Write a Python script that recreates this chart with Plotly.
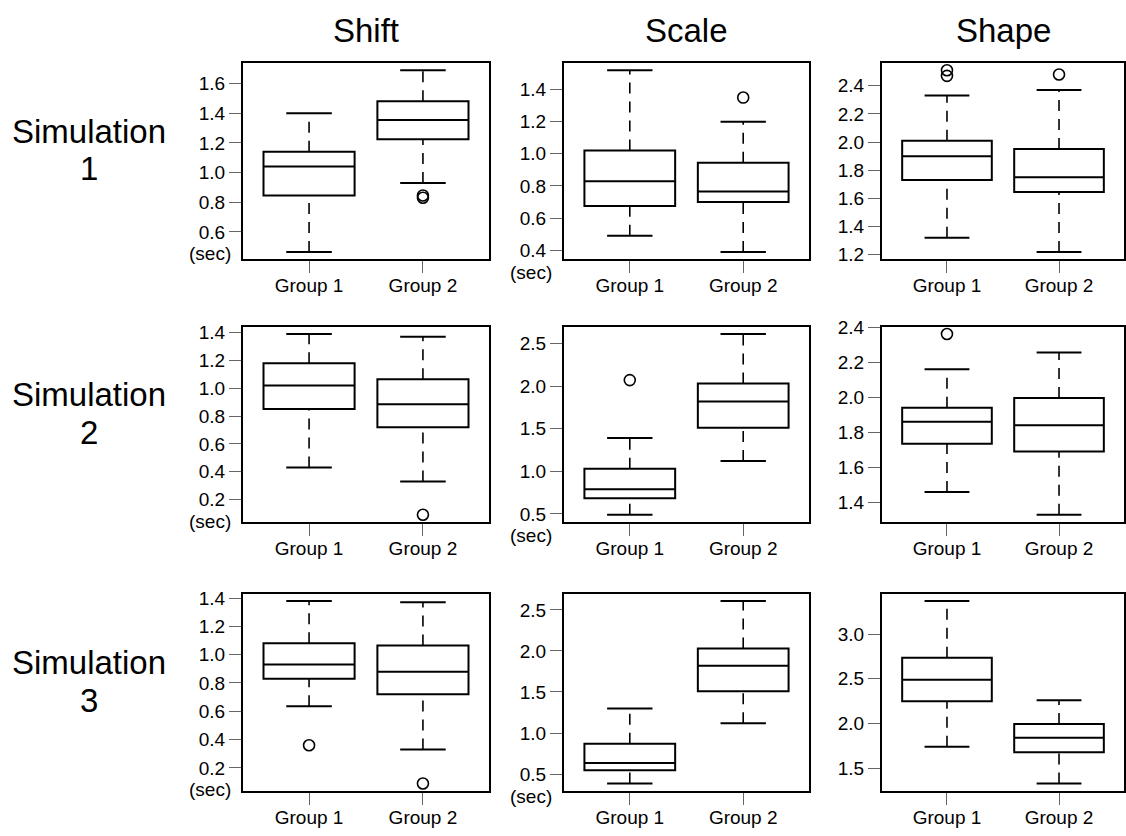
import plotly.graph_objects as go
from plotly.subplots import make_subplots

# ---------------- data ----------------
groups = ["Group 1", "Group 2"]
group_pos = [1, 2]
col_titles = ["Shift", "Scale", "Shape"]
row_names = ["Simulation", "Simulation", "Simulation"]
row_nums = ["1", "2", "3"]
unit_label = "(sec)"

# each group: [lower whisker, Q1, median, Q3, upper whisker]
sim1_shift_g1 = [0.465, 0.845, 1.04, 1.14, 1.40]
sim1_shift_g2 = [0.93, 1.225, 1.355, 1.48, 1.69]
sim1_shift_out1 = []
sim1_shift_out2 = [0.83, 0.845]
sim1_shift_ticks = [0.6, 0.8, 1.0, 1.2, 1.4, 1.6]

sim1_scale_g1 = [0.49, 0.675, 0.83, 1.02, 1.52]
sim1_scale_g2 = [0.39, 0.70, 0.765, 0.945, 1.20]
sim1_scale_out1 = []
sim1_scale_out2 = [1.35]
sim1_scale_ticks = [0.4, 0.6, 0.8, 1.0, 1.2, 1.4]

sim1_shape_g1 = [1.32, 1.73, 1.90, 2.01, 2.33]
sim1_shape_g2 = [1.22, 1.645, 1.75, 1.95, 2.37]
sim1_shape_out1 = [2.47, 2.51]
sim1_shape_out2 = [2.48]
sim1_shape_ticks = [1.2, 1.4, 1.6, 1.8, 2.0, 2.2, 2.4]

sim2_shift_g1 = [0.43, 0.85, 1.02, 1.18, 1.39]
sim2_shift_g2 = [0.33, 0.72, 0.885, 1.065, 1.37]
sim2_shift_out1 = []
sim2_shift_out2 = [0.09]
sim2_shift_ticks = [0.2, 0.4, 0.6, 0.8, 1.0, 1.2, 1.4]

sim2_scale_g1 = [0.49, 0.685, 0.79, 1.03, 1.39]
sim2_scale_g2 = [1.12, 1.51, 1.82, 2.03, 2.61]
sim2_scale_out1 = [2.07]
sim2_scale_out2 = []
sim2_scale_ticks = [0.5, 1.0, 1.5, 2.0, 2.5]

sim2_shape_g1 = [1.46, 1.735, 1.86, 1.94, 2.16]
sim2_shape_g2 = [1.33, 1.69, 1.84, 1.995, 2.255]
sim2_shape_out1 = [2.36]
sim2_shape_out2 = []
sim2_shape_ticks = [1.4, 1.6, 1.8, 2.0, 2.2, 2.4]

sim3_shift_g1 = [0.635, 0.83, 0.93, 1.08, 1.38]
sim3_shift_g2 = [0.33, 0.72, 0.88, 1.065, 1.37]
sim3_shift_out1 = [0.36]
sim3_shift_out2 = [0.09]
sim3_shift_ticks = [0.2, 0.4, 0.6, 0.8, 1.0, 1.2, 1.4]

sim3_scale_g1 = [0.385, 0.545, 0.635, 0.87, 1.30]
sim3_scale_g2 = [1.12, 1.51, 1.82, 2.03, 2.61]
sim3_scale_out1 = []
sim3_scale_out2 = []
sim3_scale_ticks = [0.5, 1.0, 1.5, 2.0, 2.5]

sim3_shape_g1 = [1.74, 2.25, 2.49, 2.735, 3.37]
sim3_shape_g2 = [1.33, 1.68, 1.84, 1.995, 2.26]
sim3_shape_out1 = []
sim3_shape_out2 = []
sim3_shape_ticks = [1.5, 2.0, 2.5, 3.0]

panels = [
    [(sim1_shift_g1, sim1_shift_g2, sim1_shift_out1, sim1_shift_out2, sim1_shift_ticks),
     (sim1_scale_g1, sim1_scale_g2, sim1_scale_out1, sim1_scale_out2, sim1_scale_ticks),
     (sim1_shape_g1, sim1_shape_g2, sim1_shape_out1, sim1_shape_out2, sim1_shape_ticks)],
    [(sim2_shift_g1, sim2_shift_g2, sim2_shift_out1, sim2_shift_out2, sim2_shift_ticks),
     (sim2_scale_g1, sim2_scale_g2, sim2_scale_out1, sim2_scale_out2, sim2_scale_ticks),
     (sim2_shape_g1, sim2_shape_g2, sim2_shape_out1, sim2_shape_out2, sim2_shape_ticks)],
    [(sim3_shift_g1, sim3_shift_g2, sim3_shift_out1, sim3_shift_out2, sim3_shift_ticks),
     (sim3_scale_g1, sim3_scale_g2, sim3_scale_out1, sim3_scale_out2, sim3_scale_ticks),
     (sim3_shape_g1, sim3_shape_g2, sim3_shape_out1, sim3_shape_out2, sim3_shape_ticks)],
]

# ---------------- layout geometry ----------------
W, H = 1126, 836
col_px = [(243, 489), (564, 809), (882, 1124)]
row_px = [(54, 254), (323, 522), (595, 796)]
FONT = "Liberation Sans, Arial, Helvetica, sans-serif"
BOX_W = 0.8
STAPLE_HALF = 0.2

fig = make_subplots(rows=3, cols=3)

annotations = []
for r in range(3):
    for c in range(3):
        n = r * 3 + c + 1
        g1, g2, o1, o2, ticks = panels[r][c]
        stats = [g1, g2]
        outs = [o1, o2]

        # dashed whiskers + solid staples
        wx, wy = [], []
        sx, sy = [], []
        for p, s in zip(group_pos, stats):
            wx += [p, p, None, p, p, None]
            wy += [s[0], s[1], None, s[3], s[4], None]
            sx += [p - STAPLE_HALF, p + STAPLE_HALF, None, p - STAPLE_HALF, p + STAPLE_HALF, None]
            sy += [s[0], s[0], None, s[4], s[4], None]
        fig.add_trace(go.Scatter(x=wx, y=wy, mode="lines",
                                 line=dict(color="black", width=1.6, dash="11px,8px"),
                                 showlegend=False, hoverinfo="skip"), row=r + 1, col=c + 1)
        fig.add_trace(go.Scatter(x=sx, y=sy, mode="lines",
                                 line=dict(color="black", width=2),
                                 showlegend=False, hoverinfo="skip"), row=r + 1, col=c + 1)
        # boxes
        fig.add_trace(go.Box(x=group_pos,
                             q1=[s[1] for s in stats],
                             median=[s[2] for s in stats],
                             q3=[s[3] for s in stats],
                             lowerfence=[s[1] for s in stats],
                             upperfence=[s[3] for s in stats],
                             width=BOX_W, whiskerwidth=0, orientation="v",
                             line=dict(color="black", width=2),
                             fillcolor="rgba(255,255,255,0)",
                             showlegend=False, hoverinfo="skip"), row=r + 1, col=c + 1)
        # outliers
        ox, oy = [], []
        for p, o in zip(group_pos, outs):
            ox += [p] * len(o)
            oy += list(o)
        if ox:
            fig.add_trace(go.Scatter(x=ox, y=oy, mode="markers",
                                     marker=dict(symbol="circle-open", size=11, color="black",
                                                 line=dict(width=1.6, color="black")),
                                     showlegend=False, hoverinfo="skip"), row=r + 1, col=c + 1)

        allv = g1 + g2 + list(o1) + list(o2)
        lo, hi = min(allv), max(allv)
        pad = 0.04 * (hi - lo)
        xs = "" if n == 1 else str(n)
        x0, x1 = col_px[c]
        y0, y1 = row_px[r]
        axis_common = dict(showline=True, mirror=True, linecolor="black", linewidth=2,
                           ticks="outside", ticklen=12, tickwidth=1.2, tickcolor="#666",
                           showgrid=False, zeroline=False,
                           tickfont=dict(family=FONT, size=19, color="black"))
        fig.update_layout({
            f"xaxis{xs}": dict(domain=[x0 / W, x1 / W],
                               range=[0.5 - 0.04 * 2, 2.5 + 0.04 * 2],
                               tickvals=group_pos, ticktext=groups,
                               ticklabelstandoff=-4, **axis_common),
            f"yaxis{xs}": dict(domain=[1 - y1 / H, 1 - y0 / H],
                               range=[lo - pad, hi + pad],
                               tickvals=ticks, tickformat=".1f", **axis_common),
        })
        if c < 2:
            annotations.append(dict(text=unit_label, xref=f"x{xs} domain", x=0,
                                    xanchor="right", xshift=-10,
                                    yref=f"y{xs}", y=ticks[0], yanchor="middle", yshift=-22,
                                    showarrow=False,
                                    font=dict(family=FONT, size=19, color="black")))

for c, t in enumerate(col_titles):
    x0, x1 = col_px[c]
    annotations.append(dict(text=t, xref="paper", yref="paper",
                            x=(x0 + x1) / 2 / W, y=1 - 21 / H,
                            xanchor="center", yanchor="middle", showarrow=False,
                            font=dict(family=FONT, size=33, color="black")))
for r in range(3):
    y0, y1 = row_px[r]
    mid = (y0 + y1) / 2
    annotations.append(dict(text=row_names[r], xref="paper", yref="paper",
                            x=89 / W, y=1 - (mid - 30) / H,
                            xanchor="center", yanchor="middle", showarrow=False,
                            font=dict(family=FONT, size=33, color="black")))
    annotations.append(dict(text=row_nums[r], xref="paper", yref="paper",
                            x=89 / W, y=1 - (mid + 8) / H,
                            xanchor="center", yanchor="middle", showarrow=False,
                            font=dict(family=FONT, size=33, color="black")))

fig.update_layout(width=W, height=H, margin=dict(l=0, r=0, t=0, b=0),
                  paper_bgcolor="white", plot_bgcolor="white",
                  boxmode="overlay", showlegend=False,
                  annotations=annotations,
                  font=dict(family=FONT, color="black"))

fig.write_html("out.html")
